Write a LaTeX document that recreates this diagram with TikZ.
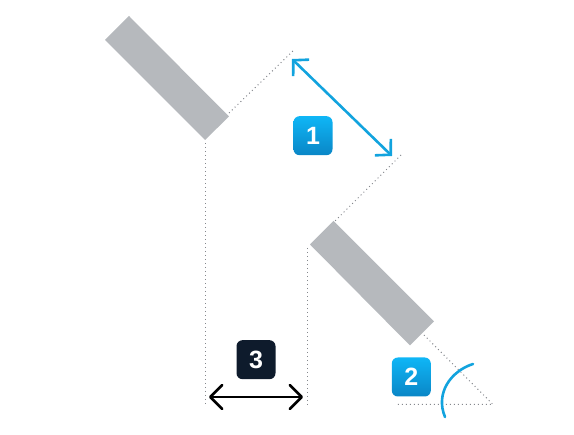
\documentclass[tikz,border=0pt]{standalone}
\usepackage{fontspec}
\setmainfont{Liberation Sans}
\usepackage{xcolor}
\usetikzlibrary{arrows.meta, positioning, calc}
\definecolor{mygray}{HTML}{B6B9BD}
\definecolor{mydots}{HTML}{85888D}
\definecolor{myblue}{HTML}{12A3DE}
\definecolor{mybluetop}{HTML}{0FB6F6}
\definecolor{mybluebottom}{HTML}{0A86C6}
\definecolor{mydark}{HTML}{0E1B2C}
\tikzset{
blade/.style={
fill=mygray,
draw=none
},
guide/.style={
draw=mydots,
line width=1pt,
dash pattern=on 1pt off 3pt
},
badge/.style={
rounded corners=6pt,
minimum width=39pt,
minimum height=39pt,
inner sep=0pt,
text=white,
font=\fontsize{25}{25}\selectfont\bfseries
},
badgeBlue/.style={
badge,
top color=mybluetop,
bottom color=mybluebottom
},
badgeDark/.style={
badge,
fill=mydark
},
blueArrow/.style={
{Straight Barb[length=11pt,width=23pt]}-{Straight Barb[length=11pt,width=23pt]},
line width=2.6pt,
draw=myblue
},
darkArrow/.style={
{Straight Barb[length=12pt,width=24pt,round]}-{Straight Barb[length=12pt,width=24pt,round]},
line width=2.6pt,
draw=black
}
}
\begin{document}
\begin{tikzpicture}[x=1pt,y=-1pt]
\useasboundingbox (0,0) rectangle (574,435);

\fill[blade] (129,16) -- (105,40) -- (205,140) -- (229,116.5) -- cycle;
\fill[blade] (333.5,221) -- (310,244.5) -- (410,345.5) -- (434,321.5) -- cycle;

\coordinate (topFoot) at (205,405);
\coordinate (topStart) at (205,143);
\coordinate (topEdge) at (229,113);
\coordinate (peakA) at (295,49);
\coordinate (peakB) at (401,155);
\coordinate (lowEdge) at (335,221);
\coordinate (lowStart) at (307.5,248);
\coordinate (lowFoot) at (307.5,405);
\coordinate (tipEdge) at (424,335);
\coordinate (apex) at (493,404.5);
\coordinate (baseEnd) at (396,404.5);

\draw[guide] (topStart) -- (topFoot);
\draw[guide] (topEdge) -- (peakA);
\draw[guide] (peakB) -- (lowEdge);
\draw[guide] (lowStart) -- (lowFoot);
\draw[guide] (tipEdge) -- (apex) -- (baseEnd);

\coordinate (arrowA) at (292,59);
\coordinate (arrowB) at (392,156);
\draw[blueArrow] (arrowA) -- (arrowB);

\coordinate (arcA) at (473,364);
\coordinate (arcB) at (445,417);
\draw[draw=myblue, line width=2.6pt, line cap=round] (arcA) .. controls (451,371) and (435,393) .. (arcB);

\coordinate (widthA) at (209,397);
\coordinate (widthB) at (303,397);
\draw[darkArrow] (widthA) -- (widthB);

\node[badgeBlue] (one) at (313,135.7) {1};
\node[badgeBlue] (two) at (411.3,377) {2};
\node[badgeDark] (three) at (256,359.7) {3};

\end{tikzpicture}
\end{document}
